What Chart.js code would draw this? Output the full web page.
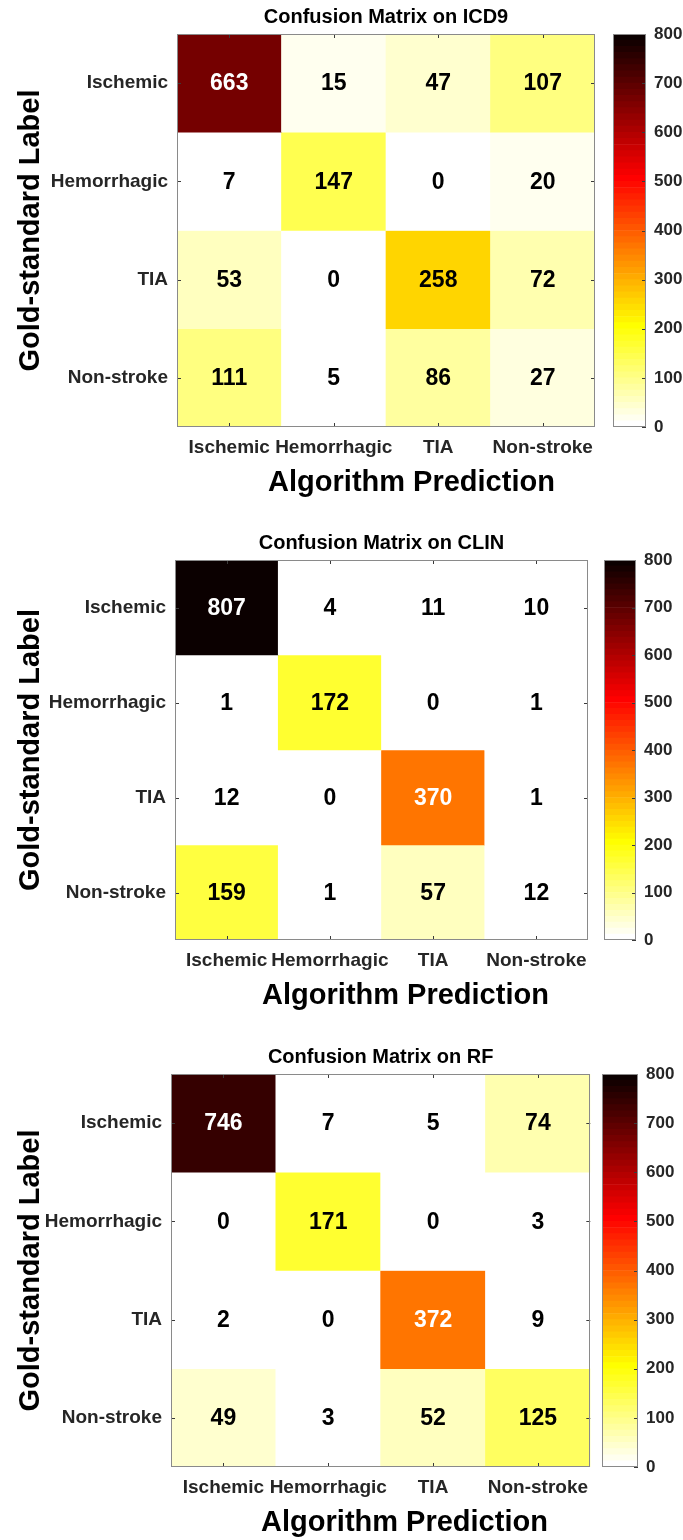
<!DOCTYPE html>
<html>
<head>
<meta charset="utf-8">
<title>Confusion matrices</title>
<script src="https://cdn.jsdelivr.net/npm/chart.js@4.4.0/dist/chart.umd.min.js"></script>
<style>
  body { margin: 0; background: #fff; }
  #page { position: relative; width: 683px; height: 1540px; overflow: hidden; }
  #page canvas { position: absolute; }
</style>
</head>
<body>
<div id="page"></div>
<script>
// categories (rows = gold standard, columns = algorithm prediction)
var predLabels = ['Ischemic', 'Hemorrhagic', 'TIA', 'Non-stroke'];
var goldLabels = ['Ischemic', 'Hemorrhagic', 'TIA', 'Non-stroke'];
var matrixTitles = ['Confusion Matrix on ICD9', 'Confusion Matrix on CLIN', 'Confusion Matrix on RF'];

var countsICD9 = [[663, 15, 47, 107], [7, 147, 0, 20], [53, 0, 258, 72], [111, 5, 86, 27]];
var countsCLIN = [[807, 4, 11, 10], [1, 172, 0, 1], [12, 0, 370, 1], [159, 1, 57, 12]];
var countsRF   = [[746, 7, 5, 74], [0, 171, 0, 3], [2, 0, 372, 9], [49, 3, 52, 125]];

var colorbarTicks = [0, 100, 200, 300, 400, 500, 600, 700, 800];

// layout of each panel in page pixels
var panels = [
  { title: matrixTitles[0], counts: countsICD9, plot: { l: 177, r: 595, t: 34, b: 427 }, bar: { l: 613, r: 646 } },
  { title: matrixTitles[1], counts: countsCLIN, plot: { l: 175, r: 588, t: 560, b: 940 }, bar: { l: 604, r: 636 } },
  { title: matrixTitles[2], counts: countsRF, plot: { l: 171, r: 591, t: 1074, b: 1467 }, bar: { l: 602, r: 638 } }
];

var colorMax = colorbarTicks[colorbarTicks.length - 1];
var nColors = 64;
var whiteTextAbove = 300;
var frameColor = '#8a8a8a';
var tickColor = '#3a3a3a';
var labelColor = '#262626';
var FONT = "'Liberation Sans', Arial, Helvetica, sans-serif";

Chart.defaults.font.family = FONT;
Chart.defaults.animation = false;

// reversed "hot" colormap, 64 levels (white -> yellow -> red -> black)
function hotLevel(idx) {
  var k = nColors - idx;
  var r = Math.min(k / 24, 1);
  var g = Math.min(Math.max((k - 24) / 24, 0), 1);
  var b = Math.min(Math.max((k - 48) / 16, 0), 1);
  return 'rgb(' + Math.round(r * 255) + ',' + Math.round(g * 255) + ',' + Math.round(b * 255) + ')';
}
function colorFor(v) {
  var idx = Math.floor(v / colorMax * nColors);
  return hotLevel(Math.max(0, Math.min(idx, nColors - 1)));
}

// frame around the plot plus MATLAB style inward ticks
var framePlugin = {
  id: 'frame',
  afterDatasetsDraw: function(chart, args, opts) {
    var ctx = chart.ctx, a = chart.chartArea, len = 4;
    ctx.save();
    ctx.strokeStyle = tickColor;
    ctx.lineWidth = 1;
    ctx.beginPath();
    if (opts.xTicks) {
      var xs = chart.scales.x;
      xs.ticks.forEach(function(t, i) {
        var px = Math.round(xs.getPixelForTick(i)) + 0.5;
        ctx.moveTo(px, a.bottom); ctx.lineTo(px, a.bottom - len);
        ctx.moveTo(px, a.top); ctx.lineTo(px, a.top + len);
      });
    }
    var ys = chart.scales.y;
    ys.ticks.forEach(function(t, i) {
      var py = Math.round(ys.getPixelForTick(i)) + 0.5;
      if (opts.leftTicks) { ctx.moveTo(a.left, py); ctx.lineTo(a.left + len, py); }
      ctx.moveTo(a.right, py); ctx.lineTo(a.right - len, py);
    });
    ctx.stroke();
    ctx.strokeStyle = frameColor;
    ctx.strokeRect(Math.round(a.left) + 0.5, Math.round(a.top) + 0.5,
                   Math.round(a.right - a.left) - 1, Math.round(a.bottom - a.top) - 1);
    ctx.restore();
  }
};

// counts written in the middle of every cell
var cellTextPlugin = {
  id: 'cellText',
  afterDatasetsDraw: function(chart) {
    var ctx = chart.ctx;
    ctx.save();
    ctx.font = 'bold 23px ' + FONT;
    ctx.textAlign = 'center';
    ctx.textBaseline = 'middle';
    chart.data.datasets.forEach(function(ds, r) {
      chart.getDatasetMeta(r).data.forEach(function(bar, c) {
        var v = ds.counts[c];
        ctx.fillStyle = v > whiteTextAbove ? '#ffffff' : '#000000';
        ctx.fillText(String(v), bar.x, (bar.y + bar.base) / 2 + 1);
      });
    });
    ctx.restore();
  }
};

// x axis title, centred under plot and colorbar together
var xTitlePlugin = {
  id: 'xTitle',
  afterDraw: function(chart, args, opts) {
    var ctx = chart.ctx, a = chart.chartArea;
    ctx.save();
    ctx.font = 'bold 29px ' + FONT;
    ctx.fillStyle = '#000';
    ctx.textAlign = 'center';
    ctx.textBaseline = 'middle';
    ctx.fillText(opts.text, (a.left + opts.right) / 2, a.bottom + opts.gap);
    ctx.restore();
  }
};

function makeCanvas(left, top, w, h) {
  var c = document.createElement('canvas');
  c.width = w; c.height = h;
  c.style.left = left + 'px'; c.style.top = top + 'px';
  c.style.width = w + 'px'; c.style.height = h + 'px';
  document.getElementById('page').appendChild(c);
  return c;
}

function drawMatrix(p) {
  var above = 40, below = 80;
  var top = p.plot.t - above;
  var w = p.bar.l - 4;
  var h = (p.plot.b - p.plot.t) + above + below;
  var titleSize = 20, titleGap = 17;
  var lh = titleSize * 1.2;

  var datasets = p.counts.map(function(row, r) {
    return {
      label: goldLabels[r],
      counts: row,
      data: row.map(function() { return [r, r + 1]; }),
      backgroundColor: row.map(colorFor),
      borderWidth: 0,
      categoryPercentage: 1,
      barPercentage: 1,
      grouped: false
    };
  });

  new Chart(makeCanvas(0, top, w, h), {
    type: 'bar',
    data: { labels: predLabels, datasets: datasets },
    options: {
      responsive: false,
      devicePixelRatio: 1,
      layout: { padding: { left: 0, right: w - p.plot.r, top: above - titleGap - lh / 2, bottom: 0 } },
      plugins: {
        legend: { display: false },
        tooltip: { enabled: false },
        title: {
          display: true,
          text: p.title,
          fullSize: false,
          color: '#000',
          font: { size: titleSize, weight: 'bold' },
          padding: { top: 0, bottom: titleGap - lh / 2 }
        },
        frame: { xTicks: true, leftTicks: true },
        xTitle: { text: 'Algorithm Prediction', right: p.bar.r, gap: 56 }
      },
      scales: {
        x: {
          grid: { display: false, drawTicks: false },
          border: { display: false },
          ticks: { color: labelColor, font: { size: 19, weight: 'bold' }, padding: 9, maxRotation: 0, minRotation: 0, autoSkip: false },
          afterFit: function(s) { s.height = below; }
        },
        y: {
          min: 0,
          max: goldLabels.length,
          reverse: true,
          grid: { display: false, drawTicks: false },
          border: { display: false },
          afterBuildTicks: function(s) {
            s.ticks = goldLabels.map(function(_, i) { return { value: i + 0.5 }; });
          },
          ticks: {
            color: labelColor,
            font: { size: 19, weight: 'bold' },
            padding: 9,
            autoSkip: false,
            callback: function(v, i) { return goldLabels[i]; }
          },
          title: {
            display: true,
            text: 'Gold-standard Label',
            color: '#000',
            font: { size: 29, weight: 'bold' },
            padding: { top: 14, bottom: 0 }
          },
          afterFit: function(s) { s.width = p.plot.l; }
        }
      }
    },
    plugins: [cellTextPlugin, framePlugin, xTitlePlugin]
  });
}

function drawColorbar(p) {
  var pad = 24;
  var left = p.bar.l;
  var w = 683 - left;
  var h = (p.plot.b - p.plot.t) + 2 * pad;
  var step = colorMax / nColors;
  var datasets = [];
  for (var i = 0; i < nColors; i++) {
    datasets.push({ data: [step], backgroundColor: hotLevel(i), borderWidth: 0, categoryPercentage: 1, barPercentage: 1 });
  }
  new Chart(makeCanvas(left, p.plot.t - pad, w, h), {
    type: 'bar',
    data: { labels: [''], datasets: datasets },
    options: {
      responsive: false,
      devicePixelRatio: 1,
      layout: { padding: { left: 0, right: 0, top: pad, bottom: pad } },
      plugins: { legend: { display: false }, tooltip: { enabled: false }, frame: { xTicks: false, leftTicks: false } },
      scales: {
        x: { display: false, stacked: true },
        y: {
          position: 'right',
          stacked: true,
          min: 0,
          max: colorMax,
          grid: { display: false, drawTicks: false },
          border: { display: false },
          afterBuildTicks: function(s) {
            s.ticks = colorbarTicks.map(function(v) { return { value: v }; });
          },
          ticks: { color: labelColor, font: { size: 17, weight: 'bold' }, padding: 8 },
          afterFit: function(s) { s.width = w - (p.bar.r - p.bar.l); }
        }
      }
    },
    plugins: [framePlugin]
  });
}

panels.forEach(function(p) {
  drawMatrix(p);
  drawColorbar(p);
});
</script>
</body>
</html>
